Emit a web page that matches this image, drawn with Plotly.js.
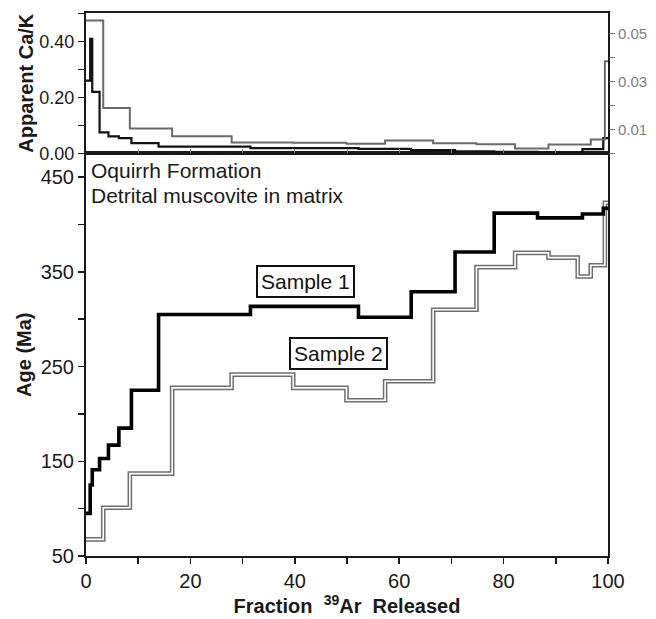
<!DOCTYPE html>
<html>
<head>
<meta charset="utf-8">
<script src="https://cdn.plot.ly/plotly-3.0.1.min.js"></script>
<style>html,body{margin:0;padding:0;background:#fff;}#chart{width:656px;height:619px;}</style>
</head>
<body>
<div id="chart"></div>
<script>
// Sample 1: step boundaries (% 39Ar released) and apparent ages (Ma), apparent Ca/K
const s1Frac = [0, 0.8, 1.2, 2.6, 4.3, 6.3, 8.7, 13.9, 31.5, 52.2, 62.3, 70.7, 78.2, 86.5, 95.1, 99.1, 100];
const s1Age  = [95, 125, 141, 153, 167, 185, 225, 305, 313.5, 302, 329, 371, 412, 407, 411, 417];
const s1CaK  = [0.26, 0.41, 0.22, 0.075, 0.061, 0.055, 0.037, 0.024, 0.019, 0.016, 0.012, 0.007, 0.006, 0.002, 0.015, 0.055];

// Sample 2
const s2Frac = [0, 3.3, 8.4, 16.5, 27.9, 39.7, 49.9, 57.3, 66.5, 74.8, 82.2, 88.6, 94.2, 96.7, 99.4, 100];
const s2Age  = [67.5, 101, 137, 227.5, 241.5, 227.5, 214.5, 234.5, 310, 355, 370, 365, 345, 357, 423];
const s2CaK  = [0.0555, 0.019, 0.0104, 0.0072, 0.0046, 0.0045, 0.0040, 0.0054, 0.0042, 0.0038, 0.0021, 0.0037, 0.0037, 0.0058, 0.0385];

const ageTicks = [50, 150, 250, 350, 450];
const xTicks = [0, 20, 40, 60, 80, 100];
const cakLeftTicks = [0, 0.2, 0.4];
const cakRightTicks = [0.01, 0.03, 0.05];

function stepY(v){ return v.concat([v[v.length-1]]); }

const FONT = '"Liberation Sans", Arial, Helvetica, sans-serif';
const AX = '#1a1a1a';

const traces = [
  // Sample 2 age spectrum: gray outlined boxes
  {x: s2Frac, y: stepY(s2Age), type:'scatter', mode:'lines', line:{shape:'hv', color:'#6e6e6e', width:4.6}, xaxis:'x', yaxis:'y', showlegend:false, hoverinfo:'skip'},
  {x: s2Frac, y: stepY(s2Age), type:'scatter', mode:'lines', line:{shape:'hv', color:'#ffffff', width:1.6}, xaxis:'x', yaxis:'y', showlegend:false, hoverinfo:'skip'},
  // Sample 1 age spectrum: black
  {x: s1Frac, y: stepY(s1Age), type:'scatter', mode:'lines', line:{shape:'hv', color:'#000000', width:3.6}, xaxis:'x', yaxis:'y', showlegend:false, hoverinfo:'skip'},
  // Ca/K panel
  {x: s2Frac, y: stepY(s2CaK), type:'scatter', mode:'lines', line:{shape:'hv', color:'#6a6a6a', width:2}, xaxis:'x2', yaxis:'y3', showlegend:false, hoverinfo:'skip'},
  {x: s1Frac, y: stepY(s1CaK), type:'scatter', mode:'lines', line:{shape:'hv', color:'#111111', width:2.2}, xaxis:'x2', yaxis:'y2', showlegend:false, hoverinfo:'skip'}
];

const layout = {
  width: 656, height: 619,
  margin: {l: 86, r: 48, t: 13, b: 63},
  paper_bgcolor: '#ffffff', plot_bgcolor: '#ffffff',
  font: {family: FONT, color: AX, size: 20},
  showlegend: false,
  xaxis: {
    domain: [0, 1], anchor: 'y', range: [0, 100],
    tickvals: xTicks, ticks: 'outside', ticklen: 6, tickwidth: 1.5, tickcolor: AX,
    minor: {dtick: 10, tick0: 0, ticks: 'outside', ticklen: 6, tickwidth: 1.5, tickcolor: AX},
    showline: true, linewidth: 2, linecolor: AX, mirror: true,
    showgrid: false, zeroline: false,
    tickfont: {size: 20, family: FONT, color: AX},
    title: {text: 'Fraction&nbsp; <sup>39</sup>Ar&nbsp; Released', font: {size: 20, family: FONT, color: AX, weight: 'bold'}, standoff: 4}
  },
  yaxis: {
    domain: [0, 0.7414], anchor: 'x', range: [50, 475],
    tickvals: ageTicks, ticks: 'outside', ticklen: 6, tickwidth: 1.5, tickcolor: AX,
    minor: {dtick: 50, tick0: 50, ticks: 'outside', ticklen: 6, tickwidth: 1.5, tickcolor: AX},
    showline: true, linewidth: 2, linecolor: AX, mirror: true,
    showgrid: false, zeroline: false,
    tickfont: {size: 20, family: FONT, color: AX},
    title: {text: 'Age (Ma)', font: {size: 20, family: FONT, color: AX, weight: 'bold'}, standoff: 4}
  },
  xaxis2: {
    domain: [0, 1], anchor: 'y2', range: [0, 100], matches: 'x',
    tickmode: 'linear', tick0: 0, dtick: 10, ticks: 'inside', ticklen: 4, tickwidth: 1, tickcolor: '#888',
    showticklabels: false,
    showline: true, linewidth: 2, linecolor: AX, mirror: true,
    showgrid: false, zeroline: false
  },
  yaxis2: {
    domain: [0.7414, 1], anchor: 'x2', range: [0, 0.502],
    tickvals: cakLeftTicks, tickformat: '.2f', ticks: 'outside', ticklen: 6, tickwidth: 1.5, tickcolor: AX,
    minor: {dtick: 0.1, tick0: 0, ticks: 'outside', ticklen: 6, tickwidth: 1.5, tickcolor: AX},
    showline: true, linewidth: 2, linecolor: AX, mirror: true,
    showgrid: false, zeroline: false,
    tickfont: {size: 18, family: FONT, color: AX},
    title: {text: 'Apparent Ca/K', font: {size: 20, family: FONT, color: AX, weight: 'bold'}, standoff: 0}
  },
  yaxis3: {
    overlaying: 'y2', side: 'right', anchor: 'x2', range: [0, 0.0586],
    tickvals: cakRightTicks, tickformat: '.2f', ticks: 'outside', ticklen: 6, tickwidth: 1.2, tickcolor: '#777',
    minor: {dtick: 0.02, tick0: 0, ticks: 'outside', ticklen: 6, tickwidth: 1.2, tickcolor: '#777'},
    showline: false, showgrid: false, zeroline: false,
    tickfont: {size: 15, family: FONT, color: '#808080'}
  },
  annotations: [
    {xref: 'x', yref: 'y', x: 0.6, y: 457, xanchor: 'left', yanchor: 'middle', text: 'Oquirrh Formation', showarrow: false, font: {size: 21, family: FONT, color: '#1a1a1a'}},
    {xref: 'x', yref: 'y', x: 0.6, y: 431, xanchor: 'left', yanchor: 'middle', text: 'Detrital muscovite in matrix', showarrow: false, font: {size: 21, family: FONT, color: '#1a1a1a'}},
    {xref: 'x', yref: 'y', x: 42.1, y: 340, xanchor: 'center', yanchor: 'middle', text: 'Sample 1', showarrow: false, font: {size: 21, family: FONT, color: '#111'}, bgcolor: '#ffffff', bordercolor: '#111', borderwidth: 2, borderpad: 3},
    {xref: 'x', yref: 'y', x: 48.3, y: 264, xanchor: 'center', yanchor: 'middle', text: 'Sample 2', showarrow: false, font: {size: 21, family: FONT, color: '#111'}, bgcolor: '#ffffff', bordercolor: '#111', borderwidth: 2, borderpad: 3}
  ]
};

Plotly.newPlot('chart', traces, layout, {displayModeBar: false, staticPlot: true});
</script>
</body>
</html>
